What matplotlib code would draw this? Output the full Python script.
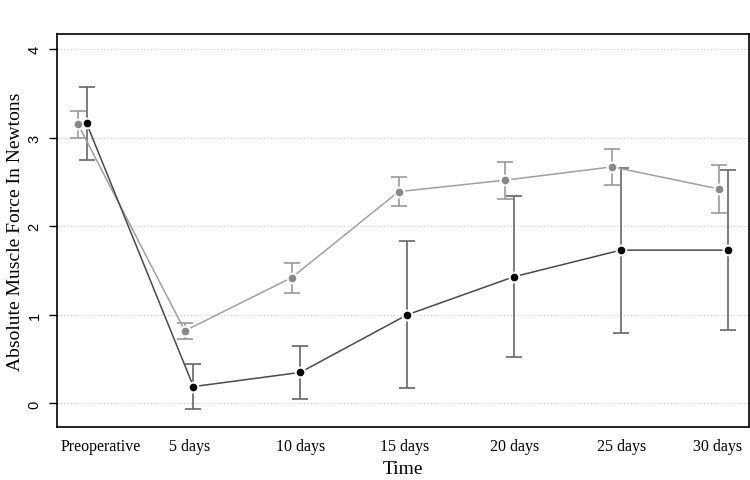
import numpy as np
import matplotlib
matplotlib.use('Agg')
import matplotlib.pyplot as plt

# === DADOS ===
categorias = ['Preoperative', '5 days', '10 days', '15 days', '20 days', '25 days', '30 days']

cinza_media = [3.15, 0.82, 1.42, 2.39, 2.52, 2.67, 2.42]
cinza_sup = [3.30, 0.91, 1.59, 2.55, 2.72, 2.87, 2.69]
cinza_inf = [3.00, 0.73, 1.25, 2.23, 2.31, 2.46, 2.15]

preto_media = [3.16, 0.19, 0.35, 1.00, 1.43, 1.73, 1.73]
preto_sup = [3.57, 0.44, 0.65, 1.83, 2.34, 2.66, 2.63]
preto_inf = [2.75, -0.06, 0.05, 0.17, 0.52, 0.79, 0.83]

# === LAYOUT ===
x = np.arange(len(categorias))
desloc = 0.08
pos_rotulos = [0.215, 1.04, 2.08, 3.06, 4.09, 5.09, 5.99]

fig = plt.figure(figsize=(7.5, 4.81), dpi=100)
ax = fig.add_axes([0.076, 0.1102, 0.9227, 0.817])

for yv in range(5):
    ax.axhline(yv, color='#c8c8c8', lw=0.8, ls=(0, (1, 2)), zorder=0)

def serie(xs, media, sup, inf, cor_linha, cor_ponto, cor_barra):
    media = np.array(media)
    err = [media - np.array(inf), np.array(sup) - media]
    ax.errorbar(xs, media, yerr=err, fmt='none', ecolor=cor_barra,
                elinewidth=1.2, capsize=5.5, capthick=1.2, zorder=2)
    ax.plot(xs, media, color=cor_linha, lw=1.1, zorder=3)
    ax.plot(xs, media, 'o', color=cor_ponto, ms=6.5, mec='white', mew=2.0, zorder=4)
    ax.plot(xs, media, 'o', color=cor_ponto, ms=5.5, mec=cor_ponto, mew=0, zorder=5)

serie(x, cinza_media, cinza_sup, cinza_inf, '#a0a0a0', '#888888', '#9a9a9a')
serie(x + desloc, preto_media, preto_sup, preto_inf, '#4a4a4a', 'black', '#666666')

ax.set_xlim(-0.197, 6.28)
ax.set_ylim(-0.266, 4.169)

ax.set_yticks([0, 1, 2, 3, 4])
ax.set_yticklabels(['0', '1', '2', '3', '4'], rotation=90, va='center',
                   family='Liberation Sans', fontsize=10.5)
ax.tick_params(axis='y', length=6, width=1, pad=5)
ax.set_xticks(pos_rotulos)
ax.set_xticklabels(categorias, family='Liberation Serif', fontsize=11.5)
ax.tick_params(axis='x', length=0, pad=8)

for s in ax.spines.values():
    s.set_linewidth(1.2)

ax.set_xlabel('Time', family='Liberation Serif', fontsize=14, labelpad=4)
ax.set_ylabel('Absolute Muscle Force In Newtons', family='Liberation Serif',
              fontsize=14, labelpad=3)

plt.savefig('out.png', dpi=100)
